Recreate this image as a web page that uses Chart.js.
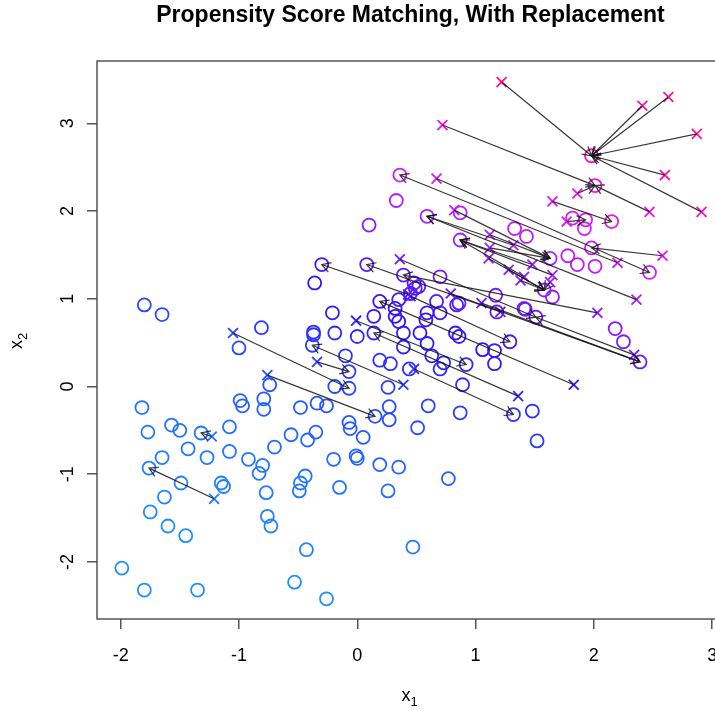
<!DOCTYPE html>
<html>
<head>
<meta charset="utf-8">
<script src="https://cdn.jsdelivr.net/npm/chart.js@4.4.1/dist/chart.umd.min.js"></script>
<style>
html, body { margin: 0; padding: 0; overflow: hidden; background: #fff; }
</style>
</head>
<body>
<canvas id="chart" width="740" height="711"></canvas>
<script>
// controls (circles)
const controlX = [-1.80, -1.65, -0.81, -1.00, -0.74, -1.82, -0.99, -0.97, -0.79, -0.79,
                  -0.48, -1.77, -1.57, -1.50, -1.32, -1.08, -0.56, -0.42, -0.35, -1.43,
                  -1.27, -1.65, -1.08, -1.76, -0.92, -0.80, -0.83, -0.70, -0.20, -1.49,
                  -1.15, -1.13, -0.44, -0.48, -0.49, -0.77, -0.15, -1.63, -1.75, -0.76,
                  -0.73, -1.60, -1.45, -0.43, -1.99, -1.80, -1.35, -0.53, -0.26, -0.01,
                  0.00, 0.19, 0.35, 0.26, 0.47, 0.77, -0.34, -0.26, -0.07, -0.06,
                  0.05, 0.15, 0.27, 0.27, 0.51, 0.60, 0.87, 1.32, 1.48, 1.52,
                  0.26, 0.89, -0.21, -0.37, -0.37, -0.19, 0.00, -0.38, -0.10, -0.07,
                  -0.19, -0.07, 0.19, 0.28, 0.44, 0.39, 0.59, 0.53, 0.39, 0.14,
                  0.14, 0.32, 0.35, 0.32, 0.19, 0.35, 0.45, 0.49, 0.59, 0.58,
                  0.67, 0.70, 0.84, 0.83, 0.86, 1.29, 1.17, 1.18, 1.42, 1.51,
                  1.58, 1.65, 0.63, 0.70, 0.73, 0.92, 1.06, 1.16, 1.16, 0.48,
                  0.52, 0.86, 0.36, 0.33, 0.10, 0.59, 0.87, 0.87, -0.30, -0.36,
                  0.08, 0.39, 0.70, 2.01, 1.98, 2.15, 1.82, 1.93, 1.92, 1.33,
                  1.43, 1.63, 1.98, 1.78, 1.86, 2.01, 2.47, 2.18, 2.25, 2.39,
                  1.41];
const controlY = [0.93, 0.82, 0.67, 0.44, 0.02, -0.24, -0.16, -0.22, -0.14, -0.26,
                  -0.24, -0.52, -0.44, -0.50, -0.53, -0.46, -0.55, -0.61, -0.52, -0.71,
                  -0.81, -0.81, -0.74, -0.93, -0.83, -0.90, -0.99, -0.69, -0.83, -1.10,
                  -1.10, -1.14, -1.02, -1.10, -1.19, -1.21, -1.15, -1.26, -1.43, -1.48,
                  -1.59, -1.59, -1.70, -1.86, -2.07, -2.32, -2.32, -2.23, -2.42, -0.79,
                  -0.82, -0.89, -0.92, -1.19, -1.83, -1.05, -0.19, -0.22, -0.41, -0.48,
                  -0.58, -0.34, -0.38, -0.23, -0.47, -0.22, -0.30, -0.32, -0.28, -0.62,
                  -0.01, 0.02, 0.84, 0.62, 0.59, 0.61, 0.57, 0.47, 0.35, 0.17,
                  0.00, -0.02, 0.30, 0.26, 0.20, 0.45, 0.49, 0.61, 0.61, 0.80,
                  0.61, 0.80, 0.74, 0.89, 0.97, 0.99, 1.06, 1.12, 0.84, 0.76,
                  0.97, 0.84, 0.93, 0.61, 0.57, 0.51, 1.04, 0.85, 0.88, 0.79,
                  1.10, 1.02, 0.35, 0.20, 0.27, 0.25, 0.42, 0.41, 0.26, 1.18,
                  1.14, 0.95, 2.41, 2.12, 1.84, 1.94, 1.98, 1.67, 1.39, 1.18,
                  1.39, 1.27, 1.25, 2.29, 2.63, 1.88, 1.92, 1.90, 1.80, 1.80,
                  1.71, 1.46, 1.58, 1.49, 1.39, 1.37, 1.30, 0.66, 0.51, 0.28,
                  0.89];

// treated (crosses) and the control each one is matched to
const treatedX = [1.22, 2.41, 2.63, 2.87, 2.60, 2.91, 0.72, 2.47, 1.86, 0.67,
                  2.20, 1.65, 1.77, 1.12, 1.32, 1.11, 1.41, 2.58, 0.82, 2.36,
                  1.28, 1.48, 1.65, 1.12, 1.63, 1.38, 2.03, 2.34, 0.79, 1.05,
                  1.21, 0.36, 0.43, 0.45, 1.83, 1.36, 0.48, 0.39, -0.01, -0.34,
                  -1.05, -0.76, -1.23, -1.21];
const treatedY = [3.47, 3.20, 3.30, 2.88, 2.41, 1.99, 2.98, 1.99, 2.20, 2.37,
                  1.41, 2.11, 1.88, 1.73, 1.61, 1.46, 1.25, 1.49, 2.01, 0.99,
                  1.33, 1.39, 1.27, 1.58, 1.19, 1.21, 0.84, 0.36, 1.06, 0.95,
                  0.85, 1.45, 1.05, 1.03, 0.02, -0.11, 0.20, 0.02, 0.75, 0.28,
                  0.61, 0.13, -0.57, -1.28];
const matchX = [1.98, 1.98, 1.98, 1.98, 1.98, 1.98, 2.01, 2.01, 2.01, 2.47,
                0.36, 2.15, 1.93, 1.63, 0.59, 1.58, 0.87, 1.98, 1.63, 0.59,
                1.58, 0.87, 0.87, 1.63, 1.58, 1.58, 0.39, 1.51, 2.39, 2.39,
                0.08, 1.51, -0.30, 1.29, 0.19, 0.14, 1.32, -0.38, 0.92, -0.07,
                -0.07, 0.15, -1.32, -1.76];
const matchY = [2.63, 2.63, 2.63, 2.63, 2.63, 2.63, 2.29, 2.29, 2.29, 1.30,
                2.41, 1.88, 1.90, 1.46, 1.94, 1.10, 1.67, 1.58, 1.46, 1.94,
                1.10, 1.67, 1.67, 1.46, 1.10, 1.10, 1.27, 0.79, 0.28, 0.28,
                1.39, 0.79, 1.39, 0.51, 0.97, 0.61, -0.32, 0.47, 0.25, 0.17,
                -0.02, -0.34, -0.53, -0.93];

const xTicks = [-2, -1, 0, 1, 2, 3];
const yTicks = [-2, -1, 0, 1, 2, 3];

const FONT = "'Liberation Sans', Arial, sans-serif";

// colour ramp from blue to deep pink along the propensity direction
const ramp = [[-2.5, [30, 144, 255]], [-1, [35, 110, 255]], [0, [40, 70, 255]],
              [1, [50, 20, 255]], [1.8, [130, 30, 255]], [2.6, [200, 30, 255]],
              [3.3, [245, 20, 230]], [4.2, [255, 20, 147]]];

function scoreColor(x, y) {
    const s = 0.54 * x + y;
    if (s <= ramp[0][0]) return "rgb(" + ramp[0][1].join(",") + ")";
    for (let i = 1; i < ramp.length; i++) {
        if (s <= ramp[i][0]) {
            const t = (s - ramp[i-1][0]) / (ramp[i][0] - ramp[i-1][0]);
            const c = ramp[i-1][1].map((v, k) => Math.round(v + t * (ramp[i][1][k] - v)));
            return "rgb(" + c.join(",") + ")";
        }
    }
    return "rgb(" + ramp[ramp.length-1][1].join(",") + ")";
}

const arrowPlugin = {
    id: "arrows",
    afterDatasetsDraw(chart) {
        const ctx = chart.ctx;
        const xs = chart.scales.x, ys = chart.scales.y;
        ctx.save();
        ctx.strokeStyle = "rgba(20,20,20,0.85)";
        ctx.lineWidth = 1.2;
        for (let i = 0; i < treatedX.length; i++) {
            const x0 = xs.getPixelForValue(treatedX[i]), y0 = ys.getPixelForValue(treatedY[i]);
            const x1 = xs.getPixelForValue(matchX[i]), y1 = ys.getPixelForValue(matchY[i]);
            const a = Math.atan2(y1 - y0, x1 - x0);
            const len = 10;
            ctx.beginPath();
            ctx.moveTo(x0, y0);
            ctx.lineTo(x1, y1);
            ctx.moveTo(x1 - len * Math.cos(a - Math.PI / 6), y1 - len * Math.sin(a - Math.PI / 6));
            ctx.lineTo(x1, y1);
            ctx.lineTo(x1 - len * Math.cos(a + Math.PI / 6), y1 - len * Math.sin(a + Math.PI / 6));
            ctx.stroke();
        }
        ctx.restore();
    }
};

const framePlugin = {
    id: "frame",
    afterDraw(chart) {
        const ctx = chart.ctx;
        const area = chart.chartArea;
        const ys = chart.scales.y;
        ctx.save();
        ctx.strokeStyle = "#555";
        ctx.lineWidth = 1.5;
        ctx.strokeRect(area.left, area.top, area.right - area.left, area.bottom - area.top);

        ctx.fillStyle = "#000";
        ctx.textAlign = "center";
        ctx.textBaseline = "middle";
        ctx.font = "bold 23px " + FONT;
        ctx.fillText("Propensity Score Matching, With Replacement", (area.left + area.right) / 2, 16);

        // y tick labels, parallel to the axis
        ctx.font = "18px " + FONT;
        yTicks.forEach(v => {
            ctx.save();
            ctx.translate(68, ys.getPixelForValue(v));
            ctx.rotate(-Math.PI / 2);
            ctx.fillText(String(v), 0, 0);
            ctx.restore();
        });

        // axis titles with subscripts
        const cx = (area.left + area.right) / 2;
        ctx.textAlign = "left";
        ctx.textBaseline = "alphabetic";
        ctx.font = "18px " + FONT;
        ctx.fillText("x", cx - 9, 701);
        ctx.font = "13px " + FONT;
        ctx.fillText("1", cx, 706);

        ctx.save();
        ctx.translate(22, (area.top + area.bottom) / 2);
        ctx.rotate(-Math.PI / 2);
        ctx.font = "18px " + FONT;
        ctx.fillText("x", -9, 0);
        ctx.font = "13px " + FONT;
        ctx.fillText("2", 0, 5);
        ctx.restore();
        ctx.restore();
    }
};

new Chart(document.getElementById("chart"), {
    type: "scatter",
    data: {
        datasets: [{
            label: "control",
            data: controlX.map((x, i) => ({x: x, y: controlY[i]})),
            pointStyle: "circle",
            pointRadius: 6.5,
            pointBorderWidth: 1.8,
            pointBackgroundColor: "rgba(0,0,0,0)",
            pointBorderColor: controlX.map((x, i) => scoreColor(x, controlY[i]))
        }, {
            label: "treated",
            data: treatedX.map((x, i) => ({x: x, y: treatedY[i]})),
            pointStyle: "crossRot",
            pointRadius: 7,
            pointBorderWidth: 1.8,
            pointBorderColor: treatedX.map((x, i) => scoreColor(x, treatedY[i]))
        }]
    },
    options: {
        responsive: false,
        animation: false,
        events: [],
        layout: {padding: {top: 61, right: 16, left: 0, bottom: 0}},
        plugins: {legend: {display: false}, tooltip: {enabled: false}},
        scales: {
            x: {
                type: "linear",
                min: -2.2,
                max: 3.1,
                afterBuildTicks: s => { s.ticks = xTicks.map(v => ({value: v})); },
                afterFit: s => { s.height = 92; },
                border: {display: false},
                grid: {drawOnChartArea: false, drawTicks: true, tickLength: 10, color: "#555", lineWidth: 1.5},
                ticks: {font: {family: FONT, size: 18}, color: "#000", padding: 16, maxRotation: 0}
            },
            y: {
                type: "linear",
                min: -2.65,
                max: 3.71,
                afterBuildTicks: s => { s.ticks = yTicks.map(v => ({value: v})); },
                afterFit: s => { s.width = 97; },
                border: {display: false},
                grid: {drawOnChartArea: false, drawTicks: true, tickLength: 10, color: "#555", lineWidth: 1.5},
                ticks: {display: false}
            }
        }
    },
    plugins: [arrowPlugin, framePlugin]
});
</script>
</body>
</html>
